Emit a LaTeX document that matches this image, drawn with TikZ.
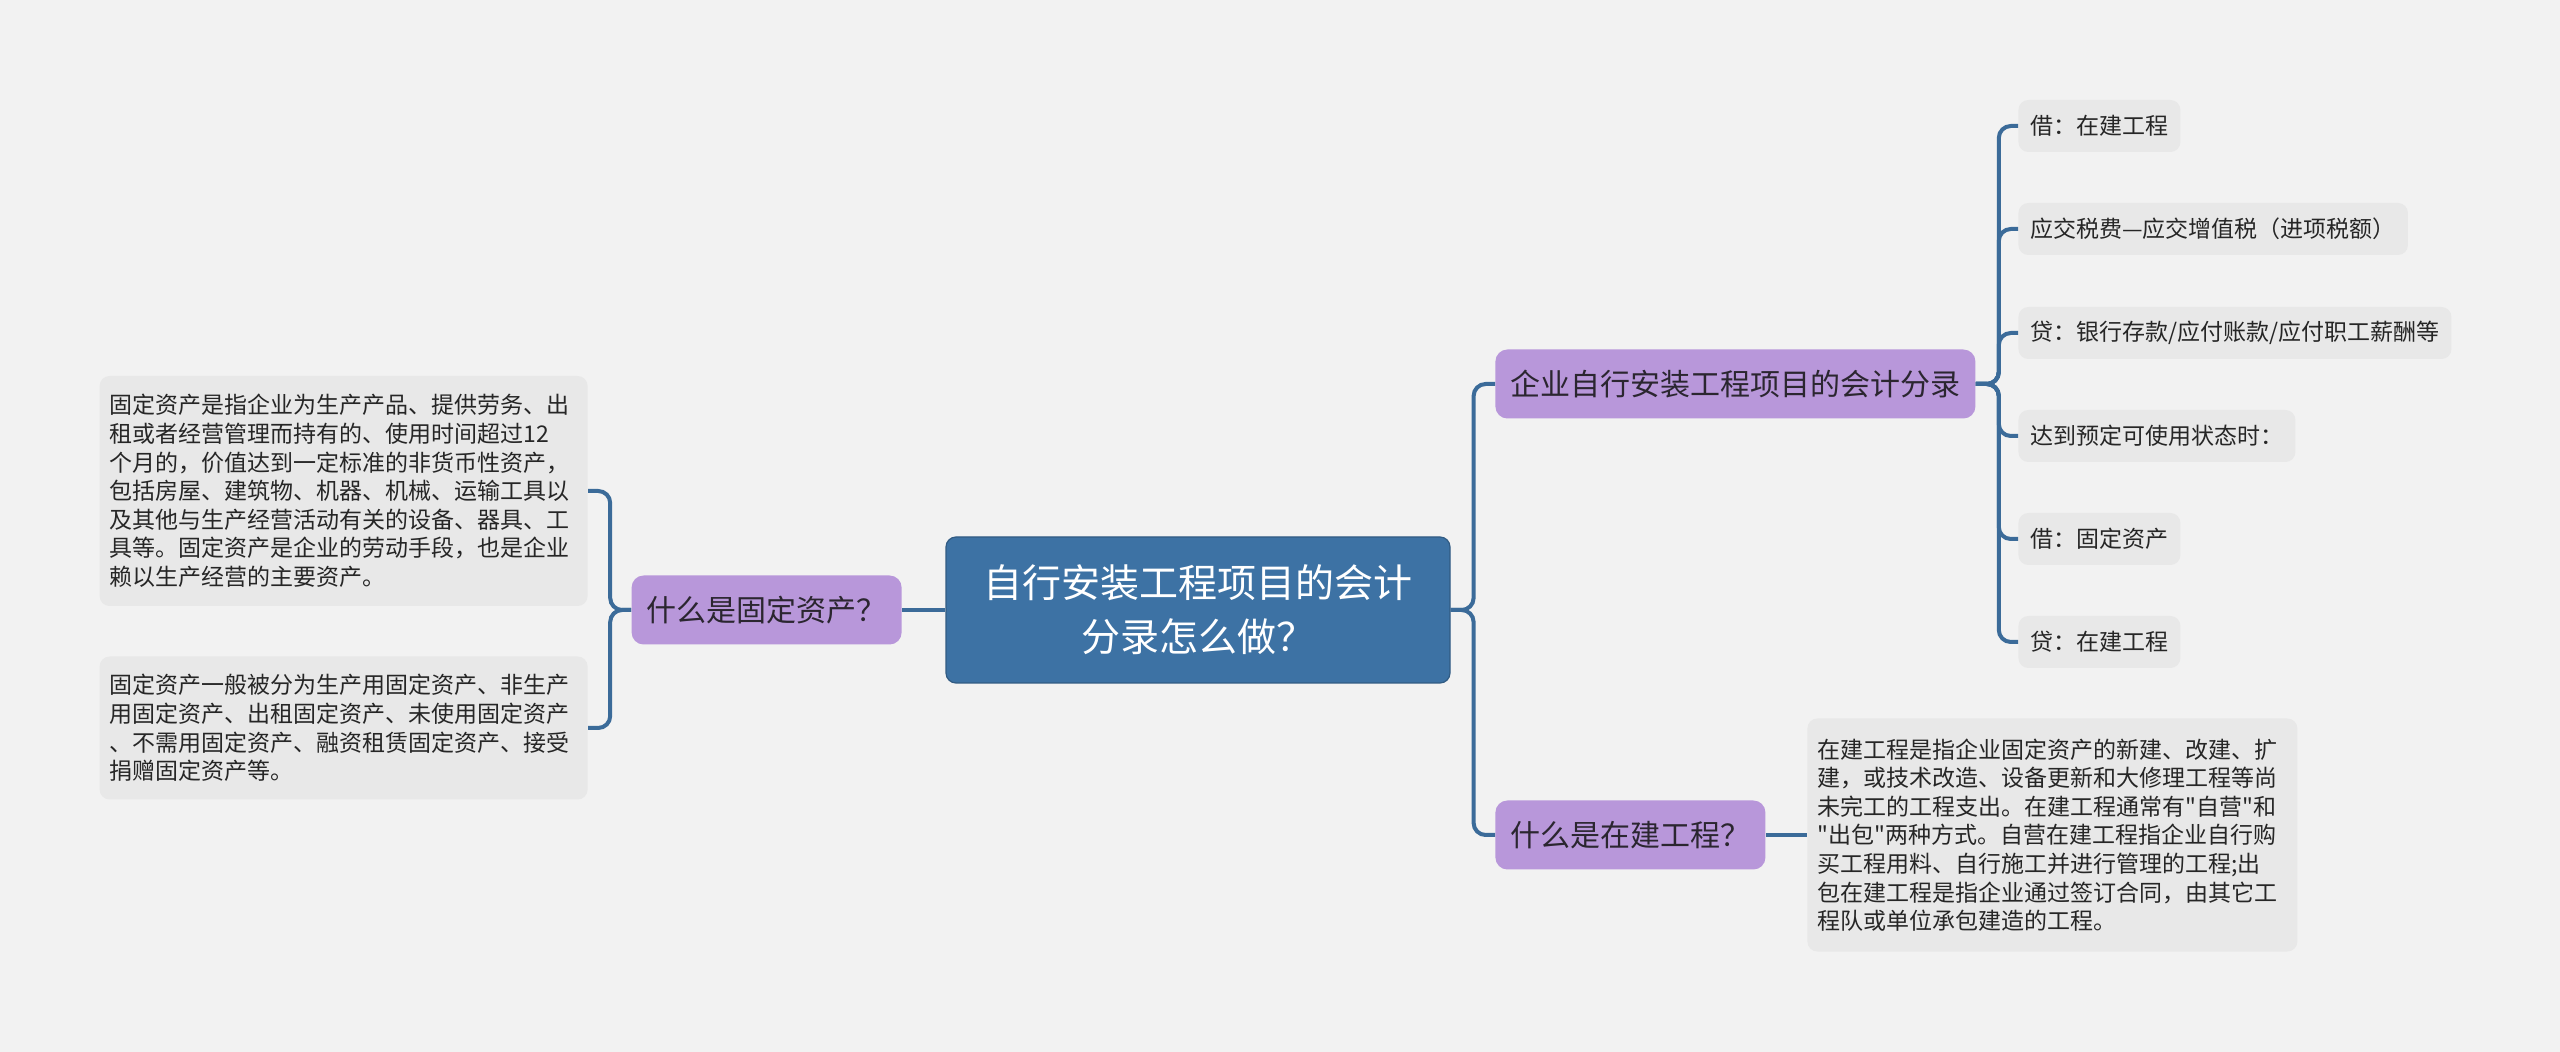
\documentclass[tikz,border=0pt]{standalone}
\usepackage{fontspec}
\newfontfamily\cjkfont{Noto Sans CJK SC}
\usetikzlibrary{positioning}

\definecolor{bgcol}{HTML}{F2F2F2}
\definecolor{rootcol}{HTML}{3D72A4}
\definecolor{subcol}{HTML}{B897DA}
\definecolor{leafcol}{HTML}{E8E8E8}
\definecolor{linecol}{HTML}{3B6B99}
\definecolor{txtcol}{HTML}{2B2630}

\begin{document}
\begin{tikzpicture}[x=0.5pt,y=-0.5pt,
  rootbox/.style={fill=rootcol, draw=rootcol!80!black, line width=0.6pt, rounded corners=5pt,
    text=white, align=center, minimum width=252pt, minimum height=73pt, inner sep=0pt,
    font=\cjkfont\fontsize{19.5pt}{27pt}\selectfont},
  subbox/.style={fill=subcol, rounded corners=6pt, text=txtcol, inner xsep=7.5pt, inner ysep=0pt,
    minimum height=34.5pt, font=\cjkfont\fontsize{15pt}{18pt}\selectfont},
  leafbox/.style={fill=leafcol, rounded corners=5pt, text=black!85, inner xsep=6pt, inner ysep=0pt,
    minimum height=26pt, font=\cjkfont\fontsize{11.5pt}{14.3pt}\selectfont},
  notebox/.style={leafbox, align=left, text width=234pt, inner xsep=5pt},
  conn/.style={draw=linecol, line width=2pt, rounded corners=6pt}
]

% Background and page size
\fill[bgcol] (0,0) rectangle (2560,1052);
\useasboundingbox (0,0) rectangle (2560,1052);

% Root
\node[rootbox] (root) at (1198,610) {自行安装工程项目的会计\\分录怎么做？};

% Left branch
\node[subbox, anchor=east] (fixq) at (902,610) {什么是固定资产？};
\node[notebox, anchor=east, minimum height=115pt] (fixa) at (588,491)
  {固定资产是指企业为生产产品、提供劳务、出\\租或者经营管理而持有的、使用时间超过12\\个月的，价值达到一定标准的非货币性资产，\\包括房屋、建筑物、机器、机械、运输工具以\\及其他与生产经营活动有关的设备、器具、工\\具等。固定资产是企业的劳动手段，也是企业\\赖以生产经营的主要资产。};
\node[notebox, anchor=east, minimum height=71.5pt] (fixb) at (588,728)
  {固定资产一般被分为生产用固定资产、非生产\\用固定资产、出租固定资产、未使用固定资产\\、不需用固定资产、融资租赁固定资产、接受\\捐赠固定资产等。};

% Right branch
\node[subbox, anchor=west] (entry) at (1495,384) {企业自行安装工程项目的会计分录};
\node[subbox, anchor=west] (cipq) at (1495,835) {什么是在建工程？};

% Entries
\node[leafbox, anchor=west] (e1) at (2018,126) {借：在建工程};
\node[leafbox, anchor=west] (e2) at (2018,229) {应交税费—应交增值税（进项税额）};
\node[leafbox, anchor=west] (e3) at (2018,333) {贷：银行存款/应付账款/应付职工薪酬等};
\node[leafbox, anchor=west] (e4) at (2018,436) {达到预定可使用状态时：};
\node[leafbox, anchor=west] (e5) at (2018,539) {借：固定资产};
\node[leafbox, anchor=west] (e6) at (2018,642) {贷：在建工程};

\node[notebox, anchor=west, text width=235pt, minimum height=116.5pt] (cipa) at (1807,835)
  {在建工程是指企业固定资产的新建、改建、扩\\建，或技术改造、设备更新和大修理工程等尚\\未完工的工程支出。在建工程通常有"自营"和\\"出包"两种方式。自营在建工程指企业自行购\\买工程用料、自行施工并进行管理的工程;出\\包在建工程是指企业通过签订合同，由其它工\\程队或单位承包建造的工程。};

% Connectors
\draw[conn] (root.west) -- (fixq.east);
\foreach \n in {fixa,fixb}
  \draw[conn] (fixq.west) -- ++(-21,0) |- (\n.east);
\foreach \n in {entry,cipq}
  \draw[conn] (root.east) -- ++(23,0) |- (\n.west);
\foreach \n in {e1,e2,e3,e4,e5,e6}
  \draw[conn] (entry.east) -- ++(23,0) |- (\n.west);
\draw[conn] (cipq.east) -- (cipa.west);
\end{tikzpicture}
\end{document}
